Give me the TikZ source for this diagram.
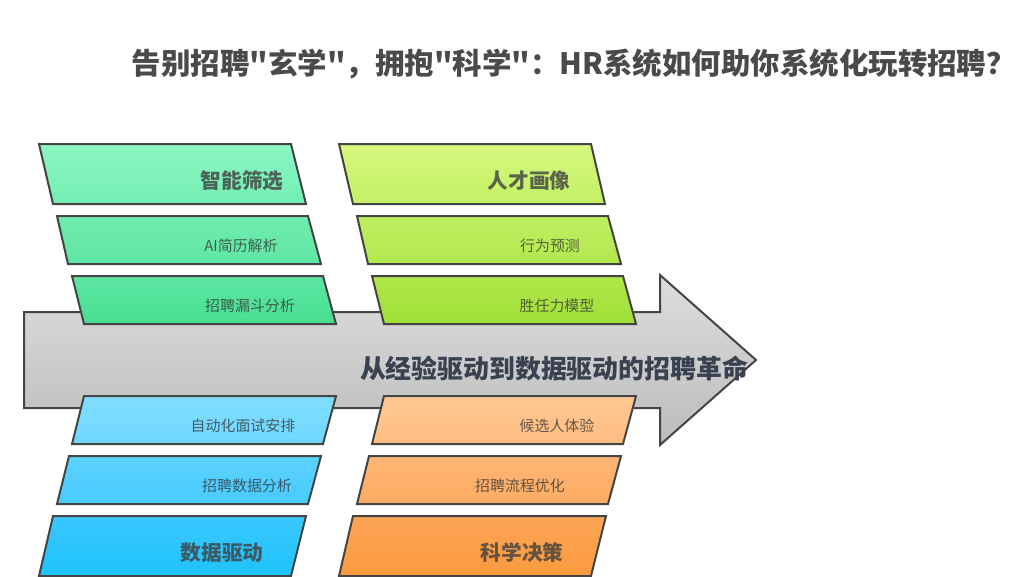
\documentclass[tikz,border=0pt]{standalone}
\usepackage{fontspec}
\setmainfont{Noto Sans CJK SC}
\newfontfamily\cjk{Noto Sans CJK SC}
\usepackage{tikz}

\definecolor{edge}{RGB}{68,68,68}
\definecolor{titlegray}{RGB}{74,74,74}
\definecolor{slate}{RGB}{58,66,82}

\tikzset{
  blk/.style={draw=edge, line width=1.5pt, line join=miter},
  bigtxt/.style={font=\bfseries\fontsize{15.5}{18}\selectfont, text=black!75, text opacity=0.8},
  smalltxt/.style={font=\fontsize{11.2}{13}\selectfont, text=black!80, text opacity=0.75}
}

\begin{document}
\begin{tikzpicture}[x=0.75pt,y=0.75pt,yscale=-1,xscale=1]
\useasboundingbox (0,0) rectangle (1024,576);

%Shape: Arrow
\draw [blk, top color={rgb,255:red,221;green,221;blue,221}, bottom color={rgb,255:red,188;green,188;blue,188}] (24,312) -- (660,312) -- (660,275) -- (756,360) -- (660,445) -- (660,408) -- (24,408) -- cycle ;

%Shape: Parallelogram (green)
\draw [blk, top color={rgb,255:red,140;green,247;blue,196}, bottom color={rgb,255:red,114;green,238;blue,178}] (39,144) -- (291,144) -- (306,204) -- (53,204) -- cycle ;
\draw [blk, top color={rgb,255:red,112;green,236;blue,176}, bottom color={rgb,255:red,95;green,230;blue,163}] (57,216) -- (308,216) -- (321,264) -- (68,264) -- cycle ;
\draw [blk, top color={rgb,255:red,93;green,230;blue,162}, bottom color={rgb,255:red,71;green,222;blue,145}] (72,276) -- (323,276) -- (336,324) -- (84,324) -- cycle ;

%Shape: Parallelogram (lime)
\draw [blk, top color={rgb,255:red,214;green,248;blue,126}, bottom color={rgb,255:red,195;green,240;blue,101}] (339,144) -- (591,144) -- (605,204) -- (353,204) -- cycle ;
\draw [blk, top color={rgb,255:red,192;green,239;blue,98}, bottom color={rgb,255:red,178;green,232;blue,78}] (357,216) -- (608,216) -- (621,264) -- (368,264) -- cycle ;
\draw [blk, top color={rgb,255:red,176;green,231;blue,75}, bottom color={rgb,255:red,160;green,224;blue,54}] (372,276) -- (623,276) -- (636,324) -- (384,324) -- cycle ;

%Shape: Parallelogram (blue)
\draw [blk, top color={rgb,255:red,128;green,222;blue,255}, bottom color={rgb,255:red,111;green,216;blue,255}] (84,396) -- (336,396) -- (323,444) -- (72,444) -- cycle ;
\draw [blk, top color={rgb,255:red,92;green,209;blue,255}, bottom color={rgb,255:red,72;green,203;blue,253}] (69,456) -- (321,456) -- (308,504) -- (57,504) -- cycle ;
\draw [blk, top color={rgb,255:red,58;green,200;blue,253}, bottom color={rgb,255:red,30;green,194;blue,251}] (53,516) -- (306,516) -- (291,576) -- (39,576) -- cycle ;

%Shape: Parallelogram (orange)
\draw [blk, top color={rgb,255:red,255;green,200;blue,148}, bottom color={rgb,255:red,255;green,189;blue,128}] (384,396) -- (636,396) -- (623,444) -- (372,444) -- cycle ;
\draw [blk, top color={rgb,255:red,254;green,181;blue,116}, bottom color={rgb,255:red,253;green,172;blue,99}] (369,456) -- (621,456) -- (608,504) -- (357,504) -- cycle ;
\draw [blk, top color={rgb,255:red,252;green,165;blue,86}, bottom color={rgb,255:red,250;green,154;blue,62}] (353,516) -- (606,516) -- (591,576) -- (339,576) -- cycle ;

% Text Node
\node (title) [anchor=west, text=titlegray, font=\cjk\bfseries\fontsize{22.1}{26}\selectfont] at (127,64) {告别招聘"玄学"，拥抱"科学"：HR系统如何助你系统化玩转招聘？};
% Text Node
\node (core) [text=slate, font=\bfseries\fontsize{19.4}{22}\selectfont] at (554,368) {从经验驱动到数据驱动的招聘革命};

% Text Node
\node (screen) [bigtxt] at (242,181) {智能筛选};
\node (resume) [smalltxt] at (241,246) {AI简历解析};
\node (funnel) [smalltxt] at (250,306) {招聘漏斗分析};
% Text Node
\node (portrait) [bigtxt] at (529,181) {人才画像};
\node (predict) [smalltxt] at (550,246) {行为预测};
\node (competency) [smalltxt] at (557,306) {胜任力模型};
% Text Node
\node (interview) [smalltxt] at (243,426) {自动化面试安排};
\node (analysis) [smalltxt] at (247,486) {招聘数据分析};
\node (datadriven) [bigtxt] at (222,553) {数据驱动};
% Text Node
\node (experience) [smalltxt] at (557,426) {候选人体验};
\node (process) [smalltxt] at (520,486) {招聘流程优化};
\node (decision) [bigtxt] at (522,553) {科学决策};

\end{tikzpicture}
\end{document}
